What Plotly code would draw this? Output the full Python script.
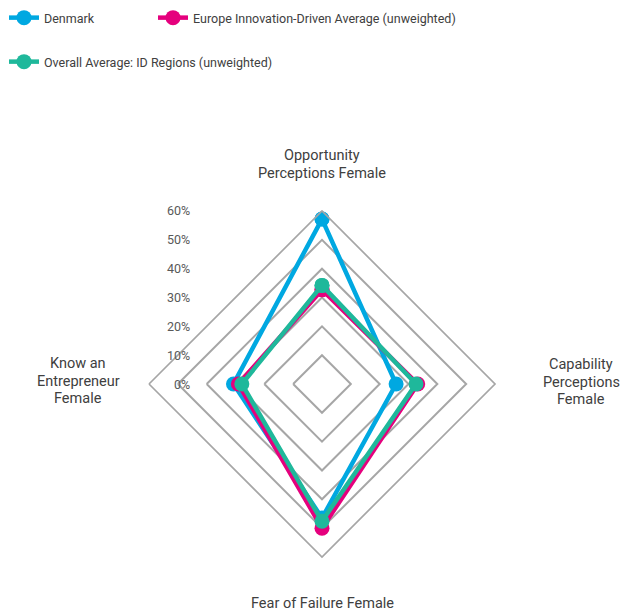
import plotly.graph_objects as go

# ---------------- data ----------------
categories = [
    "Opportunity Perceptions Female",
    "Capability Perceptions Female",
    "Fear of Failure Female",
    "Know an Entrepreneur Female",
]
category_lines = [
    ["Opportunity", "Perceptions Female"],
    ["Capability", "Perceptions", "Female"],
    ["Fear of Failure Female"],
    ["Know an", "Entrepreneur", "Female"],
]
denmark = [57.2, 25.7, 46.5, 30.7]
europe = [32.7, 33.2, 50.0, 29.0]
overall = [34.2, 32.6, 47.6, 27.8]
radial_ticks = [0, 10, 20, 30, 40, 50, 60]
radial_tick_labels = ["0%", "10%", "20%", "30%", "40%", "50%", "60%"]

series_names = [
    "Denmark",
    "Europe Innovation-Driven Average (unweighted)",
    "Overall Average: ID Regions (unweighted)",
]
series_values = [denmark, europe, overall]
series_colors = ["#00A8E1", "#E5007D", "#1FB89B"]
series_legends = ["legend", "legend2", "legend3"]

# ---------------- layout geometry ----------------
W, H = 636, 615
cx, cy, R = 322, 384, 173
FONT = "Roboto, Liberation Sans Narrow, sans-serif"
TXT = "#404040"
GRID = "#A6A6A6"


def px_x(x):
    return x / W


def px_y(y):
    return 1 - y / H


fig = go.Figure()
for name, vals, col, lg in zip(series_names, series_values, series_colors, series_legends):
    fig.add_trace(
        go.Scatterpolar(
            r=vals + vals[:1],
            theta=categories + categories[:1],
            mode="lines+markers",
            name=name,
            line=dict(color=col, width=4.5),
            marker=dict(color=col, size=15),
            legend=lg,
        )
    )

annotations = []
# radial tick labels (placed left, Excel style)
for v, lab in zip(radial_ticks, radial_tick_labels):
    ypix = cy - R * v / radial_ticks[-1]
    annotations.append(
        dict(
            x=px_x(192), y=px_y(ypix), xref="paper", yref="paper",
            xanchor="right", yanchor="middle", text=lab, showarrow=False,
            font=dict(family=FONT, size=12.5, color="#595959"),
        )
    )

# category labels, one annotation per line for tight leading
label_centers = [(322, 164.5), (581, 382), (322, 603), (78, 381)]
LEAD = 17.5
for lines, (lx, ly) in zip(category_lines, label_centers):
    n = len(lines)
    for i, line in enumerate(lines):
        yy = ly + (i - (n - 1) / 2) * LEAD
        annotations.append(
            dict(
                x=px_x(lx), y=px_y(yy), xref="paper", yref="paper",
                xanchor="center", yanchor="middle", text=line, showarrow=False,
                font=dict(family=FONT, size=14.5, color=TXT),
            )
        )

legend_common = dict(
    orientation="h", xanchor="left", yanchor="top",
    font=dict(family=FONT, size=12.5, color=TXT),
    bgcolor="rgba(0,0,0,0)",
)

fig.update_layout(
    width=W,
    height=H,
    margin=dict(l=0, r=0, t=0, b=0),
    paper_bgcolor="white",
    plot_bgcolor="white",
    font=dict(family=FONT, size=13, color=TXT),
    polar=dict(
        domain=dict(x=[px_x(cx - R), px_x(cx + R)], y=[px_y(cy + R), px_y(cy - R)]),
        bgcolor="white",
        gridshape="linear",
        radialaxis=dict(
            range=[0, 60], dtick=10, showticklabels=False, ticks="",
            showline=False, gridcolor=GRID, gridwidth=1.7,
        ),
        angularaxis=dict(
            rotation=90, direction="clockwise", showticklabels=False,
            ticks="", showgrid=False, showline=True, linecolor=GRID,
            linewidth=1.7,
        ),
    ),
    legend=dict(x=px_x(4), y=px_y(3), **legend_common),
    legend2=dict(x=px_x(153), y=px_y(3), **legend_common),
    legend3=dict(x=px_x(4), y=px_y(47), **legend_common),
    annotations=annotations,
    showlegend=True,
)

fig.write_html(
    "out.html",
    config={"displayModeBar": False},
    post_script="document.body.style.margin='0px';",
)
